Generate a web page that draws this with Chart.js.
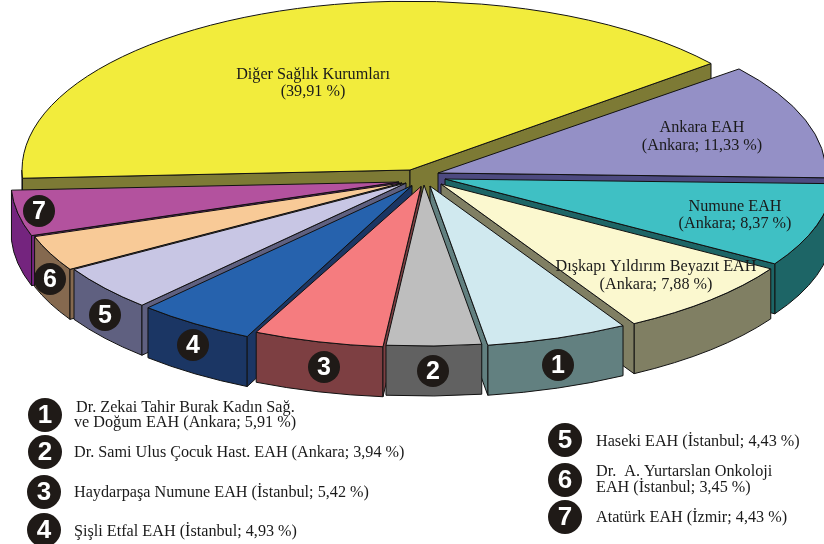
<!DOCTYPE html>
<html><head><meta charset="utf-8">
<style>html,body{margin:0;padding:0;background:#fff}canvas{display:block}</style>
<script src="https://cdn.jsdelivr.net/npm/chart.js@4/dist/chart.umd.min.js"></script>
</head><body><canvas id="c" width="824" height="544"></canvas>
<script>
const categories = ['Diğer Sağlık Kurumları','Ankara EAH','Numune EAH','Dışkapı Yıldırım Beyazıt EAH',
  'Dr. Zekai Tahir Burak Kadın Sağ. ve Doğum EAH','Dr. Sami Ulus Çocuk Hast. EAH','Haydarpaşa Numune EAH',
  'Şişli Etfal EAH','Haseki EAH','Dr. A. Yurtarslan Onkoloji EAH','Atatürk EAH'];
const cities = ['', 'Ankara','Ankara','Ankara','Ankara','Ankara','İstanbul','İstanbul','İstanbul','İstanbul','İzmir'];
const values = [39.91,11.33,8.37,7.88,5.91,3.94,5.42,4.93,4.43,3.45,4.43];
const badgeNumbers = ['','','','','1','2','3','4','5','6','7'];

const topColors  = ['#F2EC3C','#9490C6','#3FC0C4','#FBF8CF','#D0E9EF','#BEBEBE','#F57C7F','#2662AD','#C8C6E4','#F8CA97','#B3529E'];
const wallColors = ['#7D7A35','#4D4A80','#1D6566','#807F63','#628080','#616161','#7D3F42','#1B3664','#5F6080','#85694F','#74247E'];
const shiftX = [-8,20,27,23,12,6,3,-6,-12,-16,-19];
const shiftY = [-8,-5,1,6,8,7,8.5,7.5,5,5,4];
const squash = [.435,.425,.415,.415,.415,.415,.415,.43,.43,.43,.43];
const midDepthOrder = [0,1,10,2,9,3,8,7,4,6,5];
const depth = 50, radius = 388;
const FONT = '16.2px "Liberation Serif"';
const INK = '#1a1a1a', BADGE = '#1F1A17';
const TEXT_NUDGE = 1.5;

const fmt = v => v.toFixed(2).replace('.', ',') + ' %';
const sliceText = [
  [0,313,73,90],[1,702,126,144],[2,735,205,222],[3,656,265,283]
];
const chartBadges = [[4,558,365],[5,433,371],[6,324,367],[7,193,345],[8,105,315],[9,50,279],[10,39,211]];
const keyBadges = [[4,45,415],[5,45,452],[6,44,492],[7,44,530],[8,565,440],[9,565,480],[10,565,517]];
const keyLines = [
  ['Dr. Zekai Tahir Burak Kadın Sağ.',76,406],
  ['ve Doğum EAH (Ankara; '+fmt(values[4])+')',74,421],
  [categories[5]+' (Ankara; '+fmt(values[5])+')',74,451],
  [categories[6]+' (İstanbul; '+fmt(values[6])+')',74,491],
  [categories[7]+' (İstanbul; '+fmt(values[7])+')',74,530],
  [categories[8]+' (İstanbul; '+fmt(values[8])+')',596,440],
  ['Dr.  A. Yurtarslan Onkoloji',596,470],
  ['EAH (İstanbul; '+fmt(values[9])+')',596,486],
  [categories[10]+' (İzmir; '+fmt(values[10])+')',596,516]
];

function badge(ctx,n,x,y,r){
  ctx.fillStyle=BADGE;ctx.beginPath();ctx.arc(x,y,r,0,Math.PI*2);ctx.fill();
  ctx.fillStyle='#fff';ctx.font='bold '+Math.round(r*1.55)+'px "Liberation Sans"';
  ctx.textAlign='center';ctx.textBaseline='middle';ctx.fillText(n,x,y+1);
}

const pie3d = {
  id:'pie3d',
  beforeDatasetsDraw(chart){
    const ctx=chart.ctx, arcs=chart.getDatasetMeta(0).data, TAU=Math.PI*2;
    ctx.save();
    ctx.lineWidth=1;ctx.strokeStyle='#111';ctx.lineJoin='round';
    for(const i of midDepthOrder){
      const el=arcs[i],a0=el.startAngle,a1=el.endAngle,R=el.outerRadius,Ry=R*squash[i];
      const ax=el.x+shiftX[i], ay=el.y+shiftY[i];
      const px=a=>ax+R*Math.cos(a), py=a=>ay+Ry*Math.sin(a);
      ctx.fillStyle=wallColors[i];
      // outer rim: only the part that faces the viewer
      for(let k=-2;k<=2;k++){
        const s=Math.max(a0,k*TAU), e=Math.min(a1,k*TAU+Math.PI);
        if(e>s){
          ctx.beginPath();ctx.ellipse(ax,ay,R,Ry,0,s,e);ctx.ellipse(ax,ay+depth,R,Ry,0,e,s,true);ctx.closePath();ctx.fill();ctx.stroke();
        }
      }
      // radial cut faces: only those that face the viewer
      const faces=[[a0,a0-Math.PI/2],[a1,a1+Math.PI/2]];
      for(const [a,normal] of faces){
        if(Math.sin(normal)<=0) continue;
        ctx.beginPath();ctx.moveTo(ax,ay);ctx.lineTo(px(a),py(a));ctx.lineTo(px(a),py(a)+depth);ctx.lineTo(ax,ay+depth);ctx.closePath();ctx.fill();ctx.stroke();
      }
      ctx.save();
      ctx.translate(ax,ay);ctx.scale(1,squash[i]);ctx.translate(-el.x,-el.y);
      el.draw(ctx);
      ctx.restore();
      ctx.beginPath();ctx.moveTo(ax,ay);ctx.ellipse(ax,ay,R,Ry,0,a0,a1);ctx.closePath();ctx.stroke();
    }
    ctx.restore();
    return false;
  },
  afterDraw(chart){
    const ctx=chart.ctx;
    ctx.save();
    ctx.fillStyle=INK;ctx.font=FONT;ctx.textAlign='center';ctx.textBaseline='middle';
    for(const [i,x,y1,y2] of sliceText){
      ctx.fillText(categories[i],x,y1+TEXT_NUDGE);
      const c=cities[i];
      ctx.fillText('('+(c?c+'; ':'')+fmt(values[i])+')',x,y2+TEXT_NUDGE);
    }
    for(const [i,x,y] of chartBadges) badge(ctx,badgeNumbers[i],x,y,16);
    for(const [i,x,y] of keyBadges) badge(ctx,badgeNumbers[i],x,y,17);
    ctx.fillStyle=INK;ctx.font=FONT;ctx.textAlign='left';ctx.textBaseline='middle';
    for(const [t,x,y] of keyLines) ctx.fillText(t,x,y+TEXT_NUDGE);
    ctx.restore();
  }
};

new Chart(document.getElementById('c'),{
  type:'pie',
  data:{labels:categories,datasets:[{data:values,backgroundColor:topColors,borderWidth:0,hoverOffset:0}]},
  options:{
    responsive:false,animation:false,rotation:267.2,radius:radius,
    layout:{padding:{left:12,right:0,top:0,bottom:188}},
    plugins:{legend:{display:false},tooltip:{enabled:false}}
  },
  plugins:[pie3d]
});
</script></body></html>
